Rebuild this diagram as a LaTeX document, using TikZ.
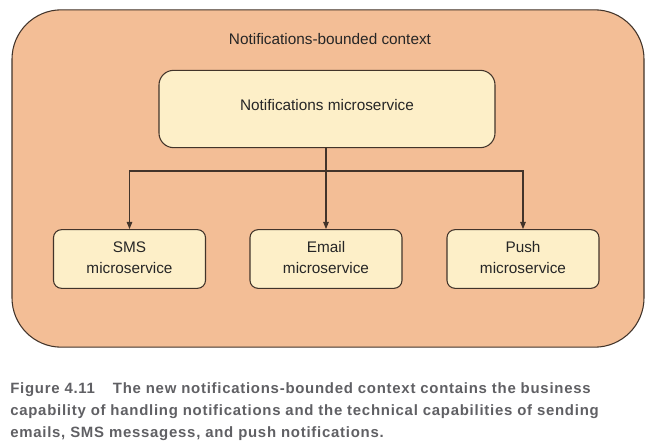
\documentclass[tikz,border=0pt]{standalone}
\usepackage{fontspec}
\setmainfont{Liberation Sans}
\newfontfamily\capfont[LetterSpace=5]{Liberation Sans Bold}
\usetikzlibrary{arrows.meta}
\definecolor{outerfill}{RGB}{243,190,150}
\definecolor{innerfill}{RGB}{253,239,200}
\definecolor{edgecol}{RGB}{66,52,42}
\definecolor{capgray}{RGB}{96,96,100}
\tikzset{
  x=0.75pt, y=-0.75pt,
  ctxbox/.style={draw=edgecol, fill=outerfill, line width=0.8pt, rounded corners=37pt,
    minimum width=474pt, minimum height=253pt, inner sep=0pt},
  mainbox/.style={draw=edgecol, fill=innerfill, line width=0.8pt, rounded corners=11pt,
    minimum width=252pt, minimum height=58pt, inner sep=0pt},
  svcbox/.style={draw=edgecol, fill=innerfill, line width=0.8pt, rounded corners=6pt,
    minimum width=114pt, minimum height=44pt, inner sep=0pt},
  conn/.style={draw=edgecol, line width=0.8pt},
  arr/.style={conn, -{Triangle[length=5.5pt,width=4.2pt]}},
  capline/.style={anchor=base west, inner sep=0pt, text=capgray, font=\capfont\fontsize{11.2pt}{13pt}\selectfont},
  lbl/.style={inner sep=0pt, align=center, font=\fontsize{11.5pt}{15.5pt}\selectfont, text=black!85}
}
\begin{document}
\begin{tikzpicture}
\useasboundingbox (0,0) rectangle (660,445);
\fill[white] (0,0) rectangle (660,445);
\node[ctxbox] (ctx) at (328,178.5) {};
\node[lbl] (title) at (330,39) {Notifications-bounded context};
\node[mainbox] (main) at (327,109) {};
\node[lbl] (mainlbl) at (327,105) {Notifications microservice};
\node[svcbox] (sms) at (129.5,259) {};
\node[svcbox] (email) at (326,259) {};
\node[svcbox] (push) at (523,259) {};
\node[lbl] (smslbl) at (129.5,257.5) {SMS\\microservice};
\node[lbl] (emaillbl) at (326,257.5) {Email\\microservice};
\node[lbl] (pushlbl) at (523,257.5) {Push\\microservice};
\coordinate (hub) at (326,171);
\draw[conn] (main.south -| hub) -- (hub);
\draw[arr] (hub) -| (sms.north);
\draw[arr] (hub) -- (email.north);
\draw[arr] (hub) -| (push.north);
\node[capline] (cap1) at (10,393) {Figure 4.11\hspace{1.2em}The new notifications-bounded context contains the business};
\node[capline] (cap2) at (10,415) {capability of handling notifications and the technical capabilities of sending};
\node[capline] (cap3) at (10,437) {emails, SMS messagess, and push notifications.};
\end{tikzpicture}
\end{document}
